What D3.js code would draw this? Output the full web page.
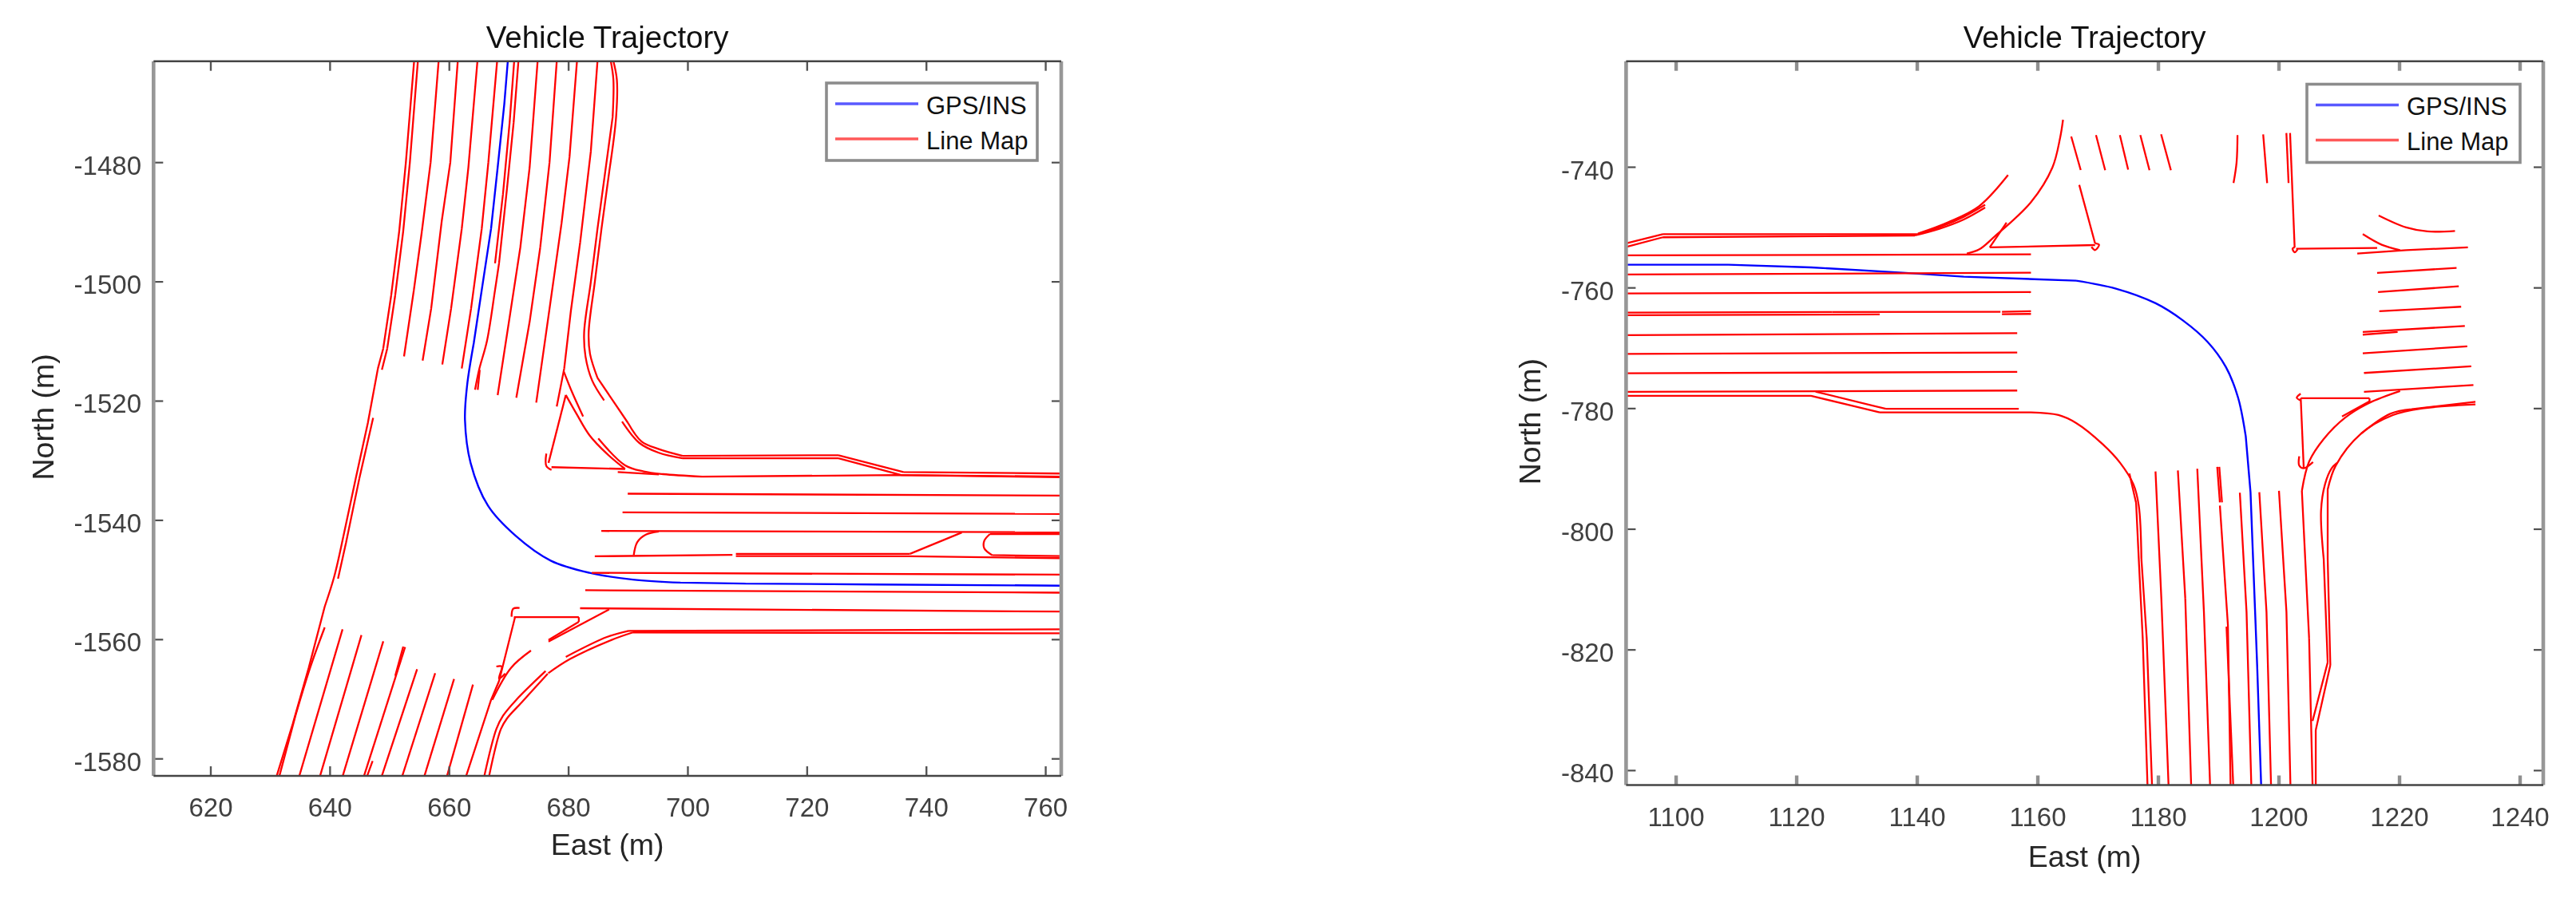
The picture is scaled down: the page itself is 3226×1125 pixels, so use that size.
<!DOCTYPE html>
<html>
<head>
<meta charset="utf-8">
<title>Vehicle Trajectory</title>
<script src="https://cdn.jsdelivr.net/npm/d3@7"></script>
<style>
  html, body { margin: 0; padding: 0; background: #fff; }
  svg { display: block; filter: blur(0.5px); }
  text { font-family: "Liberation Sans", Arial, sans-serif; }
</style>
</head>
<body>
<div id="chart"></div>
<script>
const titleText = 'Vehicle Trajectory';
const xLabelText = 'East (m)';
const yLabelText = 'North (m)';
const seriesNames = ['GPS/INS', 'Line Map'];

// left intersection, all points are [east, north] in metres
const le_xt = [620, 640, 660, 680, 700, 720, 740, 760];
const le_yt = [-1480, -1500, -1520, -1540, -1560, -1580];
const le_xd = [610.4, 762.6];
const le_yd = [-1582.85, -1463];

const le_tr = [[669.8,-1463],[669.22,-1470.13],[668.1,-1480.84],[666.99,-1491.1],[665.43,-1501.37],[664.09,-1510.3],[662.97,-1517.43],[662.62,-1523.19],[663.56,-1530.36],[666.47,-1537.53],[671.18,-1542.65],[676.99,-1546.75],[683.52,-1548.8],[690.78,-1549.93],[698.76,-1550.44],[709.65,-1550.6],[731.42,-1550.75],[762.6,-1550.95]];

const le_ma = [
  // west boundary
  [[654.09,-1463],[652.71,-1479.95],[651.59,-1491.55],[650.25,-1502.26],[648.91,-1511.19],[648.02,-1514.53],[646.33,-1523.68],[644.3,-1533],[642,-1543.76],[640.66,-1549.56],[639.1,-1554.47],[636.42,-1564.73],[633.75,-1574.1],[631.07,-1582.8]],
  [[654.72,-1463],[653.38,-1479.95],[652.26,-1491.55],[650.92,-1502.26],[649.58,-1511.19],[648.69,-1514.75]],
  [[647.22,-1522.8],[644.9,-1533],[642.67,-1543.76],[641.33,-1549.78]],
  [[639.1,-1557.95],[636.65,-1564.73],[634.19,-1572.77],[631.52,-1582.8]],
  // north arm lanes
  [[658.2,-1463],[656.86,-1479.95],[655.39,-1491.55],[654.05,-1501.37],[652.4,-1512.5]],
  [[661.41,-1463],[660.16,-1479.95],[658.73,-1489.77],[656.95,-1504.49],[655.52,-1513.2]],
  [[664.71,-1463],[663.19,-1480.84],[662.08,-1491.1],[660.29,-1504.49],[658.82,-1513.86]],
  [[668.01,-1463],[666.54,-1479.95],[665.43,-1491.1],[663.64,-1504.49],[662.08,-1514.53]],
  [[670.87,-1463],[670.11,-1473.26],[668.99,-1485.3],[667.66,-1496.9]],
  [[671.58,-1463],[670.78,-1473.26],[669.66,-1484.41],[668.33,-1496.9],[667.66,-1501.37],[666.32,-1509.85],[664.98,-1514.77],[664.31,-1518.1]],
  [[665.1,-1514.77],[664.76,-1518.1]],
  [[674.8,-1463],[673.46,-1480.84],[671.9,-1494.23],[670.33,-1504.49],[668.1,-1519]],
  [[678.01,-1463],[676.8,-1479.95],[675.24,-1494.23],[673.46,-1506.72],[671.23,-1519.44]],
  [[681.4,-1463],[680.15,-1479.06],[678.81,-1490.21],[676.8,-1504.49],[674.57,-1520.24]],
  [[684.84,-1463],[683.72,-1478.16],[681.94,-1493.34],[680.37,-1504.94],[679.26,-1514.53],[678.01,-1520.9]],
  [[679.17,-1514.99],[680.62,-1518.6],[682.43,-1522.57]],
  // NE corner
  [[687.07,-1463],[687.51,-1466.1],[687.38,-1472.36],[686.17,-1481.29],[684.84,-1491.1],[683.72,-1500.03],[682.6,-1508.51],[682.83,-1512.52],[683.94,-1516.54],[685.95,-1519.89]],
  [[687.51,-1463],[688.09,-1466.1],[687.96,-1472.36],[686.84,-1481.29],[685.51,-1491.1],[684.39,-1500.03],[683.36,-1508.51],[683.59,-1512.08],[684.84,-1516.1],[689.97,-1523.68],[692.23,-1526.77],[695.13,-1528.05],[699.12,-1529.18],[725.25,-1529.08],[736.13,-1531.9],[762.6,-1532.15]],
  [[688.96,-1523.44],[691.87,-1527.03],[695.13,-1528.67],[699.12,-1529.59],[725.25,-1529.59],[735.77,-1532.41],[762.6,-1532.66]],
  // NE island
  [[679.53,-1518.98],[676.63,-1530.36]],
  [[676.26,-1528.8],[676.26,-1530.87],[677.13,-1531.54]],
  [[677.13,-1531.08],[689.47,-1531.38]],
  [[679.53,-1518.98],[681.34,-1522.16],[683.52,-1525.75],[686.42,-1528.82],[689.47,-1531.38]],
  [[684.97,-1526.26],[689.47,-1530.77],[692.59,-1531.79],[695.86,-1532.25],[702.39,-1532.66],[735.04,-1532.41],[762.6,-1532.77]],
  [[688.24,-1531.9],[695.13,-1532.3]],
  // east arm lanes
  [[689.91,-1535.53],[762.6,-1535.84]],
  [[689.04,-1538.66],[762.6,-1538.91]],
  [[685.48,-1541.78],[762.6,-1541.99]],
  [[750.65,-1542.29],[762.6,-1542.29]],
  [[684.39,-1546.03],[707.47,-1545.78]],
  [[708.05,-1545.62],[737.22,-1545.62]],
  [[708.05,-1545.98],[737.22,-1546.02],[762.6,-1546.34]],
  [[690.92,-1545.83],[691.5,-1543.68],[692.95,-1542.4],[695.13,-1541.88]],
  [[737.22,-1545.62],[745.93,-1542.04]],
  [[750.65,-1542.29],[749.7,-1543.42],[749.7,-1544.7],[751.01,-1545.83],[762.6,-1545.98]],
  [[683.88,-1548.8],[762.6,-1549.11]],
  [[682.79,-1551.72],[762.6,-1552.13]],
  [[681.92,-1554.74],[762.6,-1555.3]],
  [[686.79,-1554.95],[676.63,-1560.33]],
  [[681.71,-1557],[676.63,-1560.07]],
  // SE island
  [[670.82,-1556.23],[681.71,-1556.23],[681.71,-1557]],
  [[671.01,-1556.25],[668.33,-1566.96],[667,-1570.09],[662.84,-1582.8]],
  [[671.77,-1554.69],[670.7,-1554.83],[670.43,-1556.16]],
  [[673.69,-1561.83],[670.34,-1564.73],[667.2,-1570.09]],
  [[667.88,-1564.51],[668.78,-1564.51],[668.33,-1566.52],[669.37,-1565.7]],
  // SE corner
  [[762.6,-1558.28],[690.05,-1558.53],[686.42,-1559.56],[679.53,-1562.89]],
  [[762.6,-1558.95],[690.78,-1558.79],[687.15,-1560.07],[680.25,-1563.25],[676.59,-1565.63]],
  [[665.88,-1582.8],[667.88,-1575],[669,-1572.77],[671.23,-1570.09],[676.14,-1565.27]],
  [[666.68,-1582.8],[668.64,-1575],[669.67,-1573.21],[672.12,-1570.53],[676.5,-1565.71]],
  // south arm lanes
  [[642.09,-1558.26],[634.86,-1582.8]],
  [[645.26,-1559.24],[638.34,-1582.8]],
  [[648.92,-1560.27],[642.14,-1582.8]],
  [[652.58,-1561.25],[645.71,-1582.8]],
  [[652.27,-1561.16],[650.93,-1566.07]],
  [[647.13,-1580.35],[646.24,-1582.8]],
  [[654.59,-1564.96],[648.7,-1582.8]],
  [[657.62,-1565.63],[652.13,-1582.8]],
  [[660.79,-1566.61],[655.84,-1582.8]],
  [[663.96,-1567.54],[659.63,-1582.8]]
];

// right intersection
const ri_xt = [1100, 1120, 1140, 1160, 1180, 1200, 1220, 1240];
const ri_yt = [-740, -760, -780, -800, -820, -840];
const ri_xd = [1091.7, 1243.84];
const ri_yd = [-842.4, -722.43];

const ri_tr = [[1091.7,-756.16],[1108.68,-756.16],[1122.37,-756.6],[1137.57,-757.48],[1147.71,-758.14],[1166.36,-758.8],[1172.95,-760.12],[1179.54,-762.55],[1184.1,-765.42],[1188.15,-768.94],[1191.2,-773.13],[1193.22,-778.2],[1194.49,-784.6],[1195.28,-793.86],[1196.38,-822.52],[1197.04,-842.36]];

const ri_ma = [
  // west arm
  [[1091.7,-752.63],[1097.79,-751.09],[1140.11,-751.09],[1144.16,-749.76],[1147.71,-748.22],[1151.26,-746.23]],
  [[1091.7,-753.2],[1097.79,-751.61],[1139.6,-751.31],[1143.66,-750.2],[1147.71,-748.66],[1151.26,-746.68]],
  [[1140.11,-751],[1145.17,-749.1],[1150.25,-746.46],[1155.06,-741.3]],
  [[1091.7,-754.61],[1158.86,-754.44]],
  [[1148.22,-754.3],[1150.25,-753.64],[1152.78,-751.53],[1158.86,-745.79],[1162.41,-740.06],[1163.68,-735.21],[1164.18,-732.13]],
  [[1152.02,-753.29],[1154.81,-749.19]],
  [[1152.02,-753.29],[1169.5,-752.9]],
  [[1091.7,-757.79],[1158.86,-757.48]],
  [[1091.7,-760.92],[1158.86,-760.7]],
  [[1091.7,-764.09],[1125.92,-764]],
  [[1091.7,-764.53],[1133.77,-764.4]],
  [[1125.92,-764],[1153.8,-763.96]],
  [[1154.05,-763.96],[1158.86,-763.87]],
  [[1154.05,-764.36],[1158.86,-764.31]],
  [[1091.7,-767.84],[1156.58,-767.49]],
  [[1091.7,-770.93],[1156.58,-770.71]],
  [[1091.7,-774.15],[1156.58,-773.92]],
  [[1091.7,-777.23],[1156.58,-777.01]],
  [[1091.7,-777.89],[1122.37,-777.89],[1133.77,-780.63],[1158.86,-780.63],[1163.42,-781.07],[1166.36,-782.4],[1170.78,-785.93],[1173.65,-789],[1175.85,-792.54],[1176.74,-796.07],[1177.18,-804.9],[1178.06,-818.11],[1178.94,-842.36]],
  [[1123.13,-777.19],[1134.79,-780.05],[1156.84,-780.05]],
  [[1175.19,-790.78],[1176.3,-795.63],[1176.74,-804.9],[1177.4,-818.11],[1178.19,-842.36]],
  // south arm
  [[1179.52,-790.42],[1180.49,-811.5],[1181.68,-842.36]],
  [[1183.23,-790.25],[1184.46,-811.5],[1185.43,-842.36]],
  [[1186.45,-789.98],[1187.55,-813.7],[1188.57,-842.36]],
  [[1189.76,-789.67],[1190.2,-795.54]],
  [[1190.1,-789.67],[1190.55,-795.54]],
  [[1190.2,-796.07],[1191.53,-815.91],[1191.97,-842.36]],
  [[1191.3,-816.13],[1192.41,-842.36]],
  [[1193.51,-793.95],[1194.62,-813.7],[1195.41,-842.36]],
  [[1196.74,-793.86],[1197.93,-813.7],[1198.68,-842.36]],
  [[1200,-793.64],[1201.24,-813.7],[1201.9,-842.36]],
  [[1203.8,-793.64],[1205,-818.11],[1205.57,-842.36]],
  [[1203.61,-778.29],[1204.11,-789.9]],
  [[1203.8,-793.64],[1205,-788.79],[1207.42,-785.04],[1210.95,-781.52],[1214.92,-779.09],[1220.09,-777.1]],
  [[1203.36,-787.91],[1203.36,-789.45],[1204.11,-789.9],[1205.65,-788.88]],
  [[1206.1,-842.36],[1206.1,-833.32],[1208.52,-822.52],[1208.08,-804.9],[1208.08,-793.42],[1209.41,-789.46],[1213.6,-784.16],[1218.9,-781.08],[1223.76,-779.97],[1232.59,-779.31]],
  [[1205.57,-831.78],[1208.08,-822.08],[1207.42,-804.9],[1206.98,-796.95],[1207.64,-792.54],[1208.74,-789.89],[1209.63,-789.01]],
  [[1213.6,-784.16],[1218.46,-780.86],[1222,-780.1],[1232.59,-778.87]],
  // north arm
  [[1165.54,-734.9],[1167.11,-740.47]],
  [[1169.65,-734.68],[1171.17,-740.5]],
  [[1173.61,-734.68],[1174.98,-740.41]],
  [[1177,-734.68],[1178.52,-740.5]],
  [[1180.45,-734.55],[1182.07,-740.5]],
  [[1193.12,-734.68],[1192.97,-739.18],[1192.46,-742.62]],
  [[1197.38,-734.55],[1198.04,-742.62]],
  [[1201.23,-734.33],[1201.59,-742.62]],
  [[1201.84,-734.33],[1202.6,-753.29]],
  [[1202.6,-753.29],[1202.25,-753.5],[1202.6,-754.1],[1203.1,-753.6]],
  [[1202.85,-753.51],[1216.28,-753.38]],
  [[1166.87,-742.93],[1169.5,-752.63]],
  [[1169.5,-752.63],[1170.16,-752.85],[1169.5,-753.73],[1168.9,-753.2]],
  // east arm
  [[1216.54,-748],[1221.1,-749.98],[1224.65,-750.64],[1229.2,-750.56]],
  [[1213.9,-751.09],[1217.04,-752.85],[1220.09,-753.73]],
  [[1212.99,-754.3],[1221.1,-753.73],[1231.34,-753.29]],
  [[1216.28,-757.52],[1229.46,-756.68]],
  [[1216.44,-760.7],[1229.82,-759.73]],
  [[1216.64,-763.87],[1230.22,-763.12]],
  [[1213.9,-767.31],[1230.83,-766.3]],
  [[1213.9,-767.75],[1219.68,-767.31]],
  [[1213.9,-770.84],[1231.23,-769.69]],
  [[1214.1,-774.1],[1231.89,-773]],
  [[1214.1,-777.23],[1232.25,-776.09]],
  [[1203.6,-777.54],[1202.95,-778.2],[1203.6,-778.64]],
  [[1203.61,-778.29],[1215.02,-778.29],[1215.02,-779.08]],
  [[1210.46,-781.3],[1215.02,-778.8]]
];

const svgW = 3226;
const svgH = 1125;
const st_ru = 9; // metres, anything longer than this is a straight run of lane

const svg = d3.select('#chart').append('svg')
  .attr('width', svgW)
  .attr('height', svgH)
  .attr('viewBox', `0 0 ${svgW} ${svgH}`);

// cut a polyline into curved runs and straight long runs, so the
// spline doesn't bulge on the long lane segments
function sp_ru(pts) {
  const runs = [];
  let cur = [pts[0]];
  for (let i = 1; i < pts.length; i++) {
    const len = Math.hypot(pts[i][0] - pts[i - 1][0], pts[i][1] - pts[i - 1][1]);
    if (len > st_ru) {
      if (cur.length > 1) runs.push(cur);
      runs.push([pts[i - 1], pts[i]]);
      cur = [pts[i]];
    } else {
      cur.push(pts[i]);
    }
  }
  if (cur.length > 1) runs.push(cur);
  return runs;
}

function dr_pa(id, map, traj, xd, yd, xt, yt, opt) {
  const { left, right, top, bottom, xTickW, xTickC, legend, xLabY, yLabX, tickEnd } = opt;

  const x_sc = d3.scaleLinear().domain(xd).range([left, right]);
  const y_sc = d3.scaleLinear().domain(yd).range([bottom, top]);
  const line = d3.line()
    .x(d => x_sc(d[0]))
    .y(d => y_sc(d[1]))
    .curve(d3.curveCatmullRom.alpha(0.5));
  const pa_d = pts => sp_ru(pts).map(r => line(r)).join('');

  const g = svg.append('g').attr('class', id);

  g.append('clipPath').attr('id', `clip-${id}`)
    .append('rect')
    .attr('x', left).attr('y', top)
    .attr('width', right - left).attr('height', bottom - top);

  const pl = g.append('g').attr('clip-path', `url(#clip-${id})`);

  pl.append('path')
    .attr('d', pa_d(traj))
    .attr('fill', 'none')
    .attr('stroke', '#0000ff')
    .attr('stroke-width', 2.4);

  pl.selectAll('.lane')
    .data(map)
    .enter()
    .append('path')
    .attr('class', 'lane')
    .attr('d', pa_d)
    .attr('fill', 'none')
    .attr('stroke', '#ff0000')
    .attr('stroke-width', 2.3);

  // ticks on all four sides, matlab box style
  const tl = 12;
  xt.forEach(v => {
    [[bottom, bottom - tl], [top, top + tl]].forEach(p => {
      g.append('line')
        .attr('x1', x_sc(v)).attr('x2', x_sc(v))
        .attr('y1', p[0]).attr('y2', p[1])
        .attr('stroke', xTickC)
        .attr('stroke-width', xTickW);
    });
    g.append('text')
      .attr('x', x_sc(v))
      .attr('y', bottom + 51)
      .attr('text-anchor', 'middle')
      .attr('font-size', 33)
      .attr('fill', '#404040')
      .text(v);
  });

  yt.forEach(v => {
    [[left, left + tl], [right, right - tl]].forEach(p => {
      g.append('line')
        .attr('x1', p[0]).attr('x2', p[1])
        .attr('y1', y_sc(v)).attr('y2', y_sc(v))
        .attr('stroke', '#505050')
        .attr('stroke-width', 2.2);
    });
    g.append('text')
      .attr('x', tickEnd)
      .attr('y', y_sc(v) + 15)
      .attr('text-anchor', 'end')
      .attr('font-size', 33)
      .attr('fill', '#404040')
      .text(String(v));
  });

  // axes box, the verticals came out grey and thick in the original
  [left, right].forEach(xp => {
    g.append('line')
      .attr('x1', xp).attr('x2', xp)
      .attr('y1', top).attr('y2', bottom)
      .attr('stroke', '#979797')
      .attr('stroke-width', 4.6);
  });
  [top, bottom].forEach(yp => {
    g.append('line')
      .attr('x1', left).attr('x2', right)
      .attr('y1', yp).attr('y2', yp)
      .attr('stroke', '#454545')
      .attr('stroke-width', 2.4);
  });

  g.append('text')
    .attr('x', (left + right) / 2)
    .attr('y', 60)
    .attr('text-anchor', 'middle')
    .attr('font-size', 38.5)
    .attr('fill', '#111')
    .text(titleText);

  g.append('text')
    .attr('x', (left + right) / 2)
    .attr('y', xLabY)
    .attr('text-anchor', 'middle')
    .attr('font-size', 37.5)
    .attr('fill', '#262626')
    .text(xLabelText);

  g.append('text')
    .attr('transform', `translate(${yLabX},${(top + bottom) / 2 - 2}) rotate(-90)`)
    .attr('text-anchor', 'middle')
    .attr('font-size', 37.5)
    .attr('fill', '#262626')
    .text(yLabelText);

  // legend
  const lg = g.append('g').attr('transform', `translate(${legend.x},${legend.y})`);
  lg.append('rect')
    .attr('width', legend.w).attr('height', legend.h)
    .attr('fill', '#fff')
    .attr('stroke', '#8c8c8c')
    .attr('stroke-width', 3.6);

  seriesNames.forEach((name, i) => {
    const yy = 26 + i * 44;
    lg.append('line')
      .attr('x1', 11).attr('x2', 115)
      .attr('y1', yy).attr('y2', yy)
      .attr('stroke', i === 0 ? '#0000ff' : '#ff0000')
      .attr('stroke-opacity', 0.65)
      .attr('stroke-width', 3.4);
    lg.append('text')
      .attr('x', 125)
      .attr('y', yy + 12.5)
      .attr('font-size', 31)
      .attr('fill', '#111')
      .text(name);
  });
}

dr_pa('left', le_ma, le_tr, le_xd, le_yd, le_xt, le_yt, {
  left: 192.3, right: 1329, top: 76.7, bottom: 972,
  xTickW: 2.4, xTickC: '#555',
  legend: { x: 1035, y: 104, w: 264, h: 97 },
  xLabY: 1071, yLabX: 67, tickEnd: 177
});

dr_pa('right', ri_ma, ri_tr, ri_xd, ri_yd, ri_xt, ri_yt, {
  left: 2036.4, right: 3185, top: 76.7, bottom: 983.5,
  xTickW: 4.4, xTickC: '#8f8f8f',
  legend: { x: 2889, y: 105.5, w: 267, h: 98 },
  xLabY: 1086, yLabX: 1929, tickEnd: 2021
});
</script>
</body>
</html>
